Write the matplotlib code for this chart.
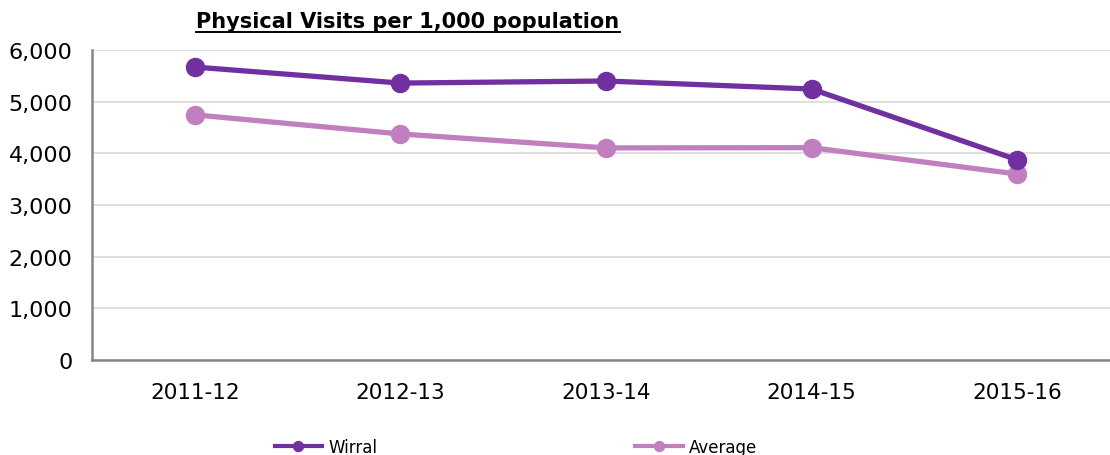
import matplotlib
matplotlib.use('Agg')
import matplotlib.pyplot as plt

years = ['2011-12', '2012-13', '2013-14', '2014-15', '2015-16']
wirral = [5670, 5360, 5400, 5245, 3875]
average = [4745, 4375, 4105, 4110, 3600]
yticks = [0, 1000, 2000, 3000, 4000, 5000, 6000]

plt.rcParams['font.family'] = 'DejaVu Sans'

W, H = 1110, 456
fig = plt.figure(figsize=(W / 100, H / 100), dpi=100)
# plot area: left 92px, top 51px, bottom 361px, one category = 205.5px
ax = fig.add_axes([92 / W, (H - 361) / H, 1028 / W, 310 / H])

x = range(len(years))
ax.plot(x, wirral, color='#7030A0', lw=3.8, marker='o', ms=13, label='Wirral', zorder=3)
ax.plot(x, average, color='#C27FC0', lw=3.8, marker='o', ms=13, label='Average', zorder=2)

ax.set_xlim(-0.5, len(years) - 0.5)
ax.set_ylim(0, 6000)
ax.set_xticks(list(x))
ax.set_xticklabels(years)
ax.set_yticks(yticks)
ax.set_yticklabels([f'{v:,}' for v in yticks])
ax.tick_params(axis='both', length=0, labelsize=15.5)
ax.tick_params(axis='y', pad=14, labelsize=16)
ax.tick_params(axis='x', pad=16)
ax.grid(axis='y', color='#D9D9D9', lw=1.2)
ax.set_axisbelow(True)
for s in ['top', 'right']:
    ax.spines[s].set_visible(False)
for s in ['left', 'bottom']:
    ax.spines[s].set_color('#868686')
    ax.spines[s].set_linewidth(1.8)

t = fig.text(408 / W, 1 - 22 / H, 'Physical Visits per 1,000 population', ha='center', va='center',
             fontsize=15, fontweight='bold', color='black')
# underline the title
fig.canvas.draw()
bb = t.get_window_extent()
fig.add_artist(plt.Line2D([bb.x0 / W, bb.x1 / W], [(bb.y0 - 1) / H, (bb.y0 - 1) / H],
                          color='black', lw=1.4, transform=fig.transFigure))

leg = fig.legend(loc='center left', bbox_to_anchor=(268 / W, 1 - 448 / H), ncol=2,
                 frameon=False, fontsize=12, handlelength=2.85, markerscale=0.55,
                 columnspacing=15.5, handletextpad=0.35, borderaxespad=0)
for h in leg.legend_handles:
    h.set_linewidth(3)

fig.savefig('out.png', dpi=100)
